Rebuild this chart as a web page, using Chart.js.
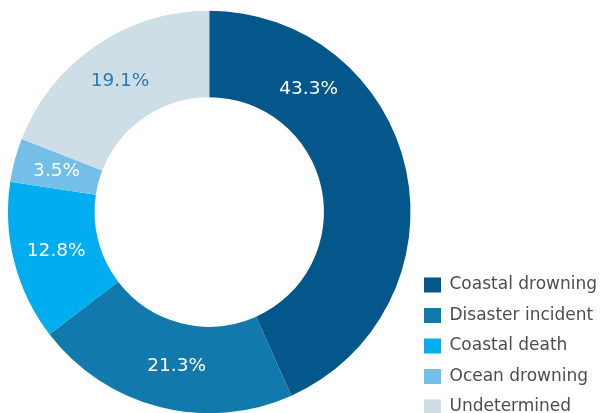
<!DOCTYPE html>
<html>
<head>
<meta charset="utf-8">
<script src="https://cdn.jsdelivr.net/npm/chart.js@4.4.1/dist/chart.umd.min.js"></script>
<style>
  html, body { margin: 0; padding: 0; background: #ffffff; overflow: hidden; width: 602px; height: 413px; }
  #c { display: block; margin-top: -5px; }
</style>
</head>
<body>
<canvas id="c" width="602" height="434"></canvas>
<script>
const categories = ['Coastal drowning', 'Disaster incident', 'Coastal death', 'Ocean drowning', 'Undetermined'];
const shares = [43.3, 21.3, 12.8, 3.5, 19.1];
const valueLabels = ['43.3%', '21.3%', '12.8%', '3.5%', '19.1%'];

const sliceColors = ['#03578a', '#1279ad', '#00aeef', '#74bfe8', '#cddee7'];
const labelColors = ['#ffffff', '#ffffff', '#ffffff', '#ffffff', '#2a7ab3'];
const labelAnchor = [0.25, 0.47, 0.5, 0.5, 0.5];

const FONT = '"DejaVu Sans", "Liberation Sans", Arial, sans-serif';
const LEGEND_SIZE = 17;
const LEGEND_PAD = 13.5;
const BOX_W = 17;

// size the legend so that the ring occupies the left part
const mctx = document.createElement('canvas').getContext('2d');
mctx.font = LEGEND_SIZE + 'px ' + FONT;
let maxW = 0;
categories.forEach(t => { maxW = Math.max(maxW, mctx.measureText(t).width); });
const legendWidth = LEGEND_PAD * 2 + BOX_W + LEGEND_SIZE / 2 + maxW;
const padRight = 602 - 410 - legendWidth + 3;

const sliceLabels = {
  id: 'sliceLabels',
  afterDatasetsDraw(chart) {
    const ctx = chart.ctx;
    const meta = chart.getDatasetMeta(0);
    ctx.save();
    ctx.font = '18.5px ' + FONT;
    ctx.textAlign = 'center';
    ctx.textBaseline = 'middle';
    meta.data.forEach((arc, i) => {
      const p = arc.getProps(['x', 'y', 'startAngle', 'endAngle', 'innerRadius', 'outerRadius'], true);
      const a = p.startAngle + (p.endAngle - p.startAngle) * labelAnchor[i];
      const r = (p.innerRadius + p.outerRadius) / 2;
      ctx.fillStyle = labelColors[i];
      ctx.fillText(valueLabels[i], p.x + Math.cos(a) * r, p.y + Math.sin(a) * r);
    });
    ctx.restore();
  }
};

new Chart(document.getElementById('c'), {
  type: 'doughnut',
  data: {
    labels: categories,
    datasets: [{
      data: shares,
      backgroundColor: sliceColors,
      borderWidth: 0,
      hoverOffset: 0
    }]
  },
  options: {
    responsive: false,
    animation: false,
    cutout: '57%',
    layout: { padding: { left: 8, right: padRight, top: 0, bottom: 0 } },
    plugins: {
      tooltip: { enabled: false },
      legend: {
        position: 'right',
        align: 'end',
        labels: {
          boxWidth: BOX_W,
          boxHeight: 15,
          padding: LEGEND_PAD,
          color: '#4d4d4d',
          font: { family: FONT, size: LEGEND_SIZE }
        }
      }
    }
  },
  plugins: [sliceLabels]
});
</script>
</body>
</html>
